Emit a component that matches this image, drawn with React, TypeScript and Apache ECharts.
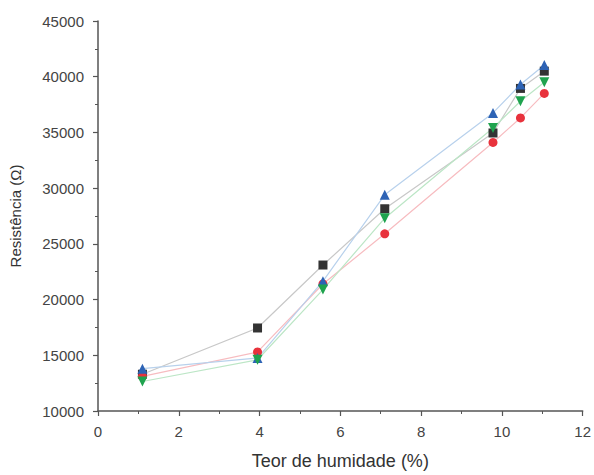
import React, { useEffect, useRef } from "react";
import * as echarts from "echarts";

const moisture = [1.1, 3.95, 5.57, 7.1, 9.78, 10.46, 11.05];
const seriesBlack = [13300, 17450, 23100, 28150, 34950, 38950, 40500];
const seriesRed = [13100, 15300, 21400, 25900, 34100, 36300, 38500];
const seriesBlue = [13800, 14750, 21650, 29400, 36750, 39300, 41050];
const seriesGreen = [12650, 14600, 20900, 27300, 35400, 37800, 39500];

const xTicks = [0, 2, 4, 6, 8, 10, 12];
const yTicks = [10000, 15000, 20000, 25000, 30000, 35000, 40000, 45000];

const pair = (ys: number[]) => moisture.map((x, i) => [x, ys[i]]);

export default function App() {
  const ref = useRef<HTMLDivElement>(null);
  useEffect(() => {
    if (!ref.current) return;
    const chart = echarts.init(ref.current, undefined, { renderer: "svg" });
    const axisColor = "#555";
    const font = "Liberation Sans, Arial, sans-serif";
    const xMin = xTicks[0];
    const xMax = xTicks[xTicks.length - 1];
    const yMin = yTicks[0];
    const yMax = yTicks[yTicks.length - 1];
    const mk = (name: string, data: number[], symbol: string, color: string, lineColor: string, size: number, rotate = 0) => ({
      name,
      type: "line",
      xAxisIndex: 0,
      yAxisIndex: 0,
      data: pair(data),
      symbol,
      symbolSize: size,
      symbolRotate: rotate,
      itemStyle: { color },
      lineStyle: { color: lineColor, width: 1.2 },
      z: 2,
    });
    const minorAxis = (min: number, max: number, interval: number, position: string) => ({
      type: "value",
      min,
      max,
      interval,
      position,
      axisLine: { show: false },
      axisTick: { show: true, inside: false, length: 3, lineStyle: { color: axisColor, width: 1 } },
      axisLabel: { show: false },
      splitLine: { show: false },
    });
    chart.setOption({
      animation: false,
      backgroundColor: "#fff",
      grid: { left: 96, right: 6, top: 21, bottom: 61, containLabel: false },
      xAxis: [
        {
          type: "value",
          min: xMin,
          max: xMax,
          interval: 2,
          position: "bottom",
          name: "Teor de humidade (%)",
          nameLocation: "middle",
          nameGap: 41,
          nameTextStyle: { fontSize: 18, color: "#333", fontFamily: font },
          axisLine: { show: true, lineStyle: { color: axisColor, width: 1.5 } },
          axisTick: { show: true, inside: false, length: 5, lineStyle: { color: axisColor, width: 1.2 } },
          axisLabel: { fontSize: 15, color: "#444", fontFamily: font, margin: 13 },
          splitLine: { show: false },
        },
        minorAxis(xMin, xMax, 1, "bottom"),
      ],
      yAxis: [
        {
          type: "value",
          min: yMin,
          max: yMax,
          interval: 5000,
          position: "left",
          name: "Resistência (Ω)",
          nameLocation: "middle",
          nameGap: 75,
          nameRotate: 90,
          nameTextStyle: { fontSize: 15, color: "#333", fontFamily: font },
          axisLine: { show: true, lineStyle: { color: axisColor, width: 1.5 } },
          axisTick: { show: true, inside: false, length: 5, lineStyle: { color: axisColor, width: 1.2 } },
          axisLabel: { fontSize: 15, color: "#444", fontFamily: font, margin: 14, formatter: (v: number) => String(v) },
          splitLine: { show: false },
        },
        minorAxis(yMin, yMax, 2500, "left"),
      ],
      series: [
        mk("Black", seriesBlack, "rect", "#333333", "#c8c8c8", 9),
        mk("Red", seriesRed, "circle", "#e8323c", "#f7bcc0", 9),
        mk("Blue", seriesBlue, "triangle", "#2d63b5", "#b8d1ec", 10),
        mk("Green", seriesGreen, "triangle", "#1fa34e", "#bce6c6", 10, 180),
      ],
    });
    return () => chart.dispose();
  }, []);
  return <div ref={ref} style={{ position: "absolute", left: 0, top: 0, width: 594, height: 475 }} />;
}
